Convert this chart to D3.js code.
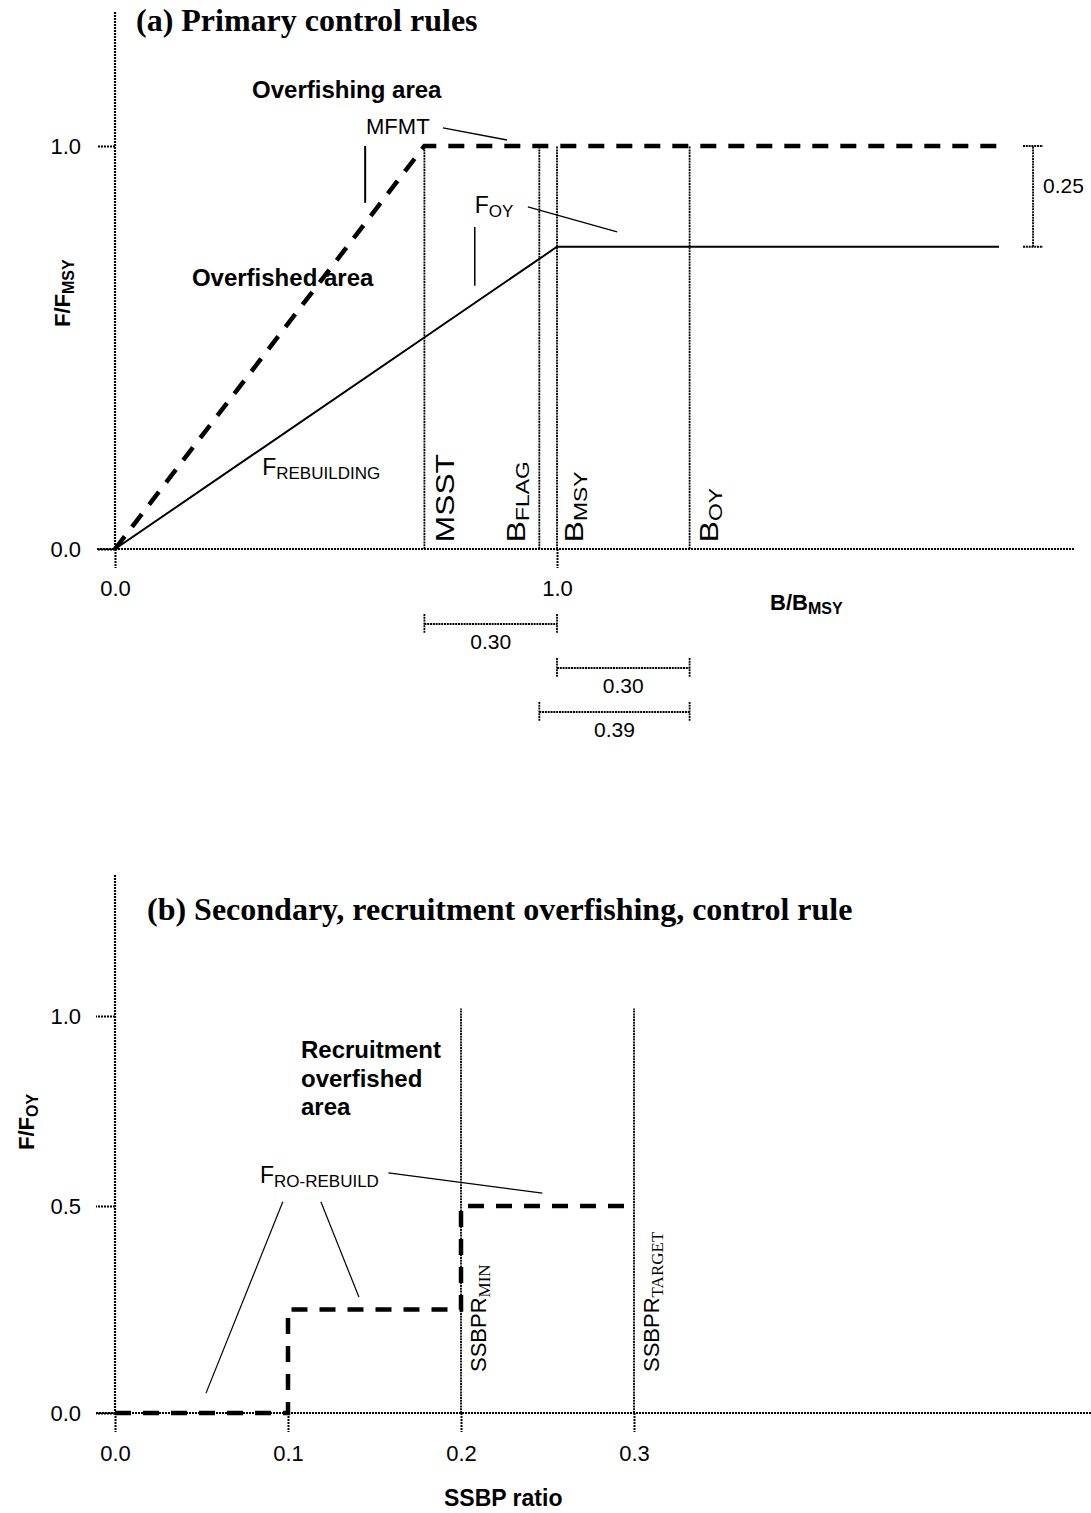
<!DOCTYPE html>
<meta charset="utf-8">
<style>
body{margin:0;background:#fff;}
text{font-family:"Liberation Sans",Arial,sans-serif;fill:#000;}
.title{font-family:"Liberation Serif","Times New Roman",serif;font-weight:bold;font-size:32px;}
.area{font-weight:bold;font-size:24px;}
.axlab{font-weight:bold;font-size:22px;}
.lbl{font-size:23px;}
.sub{font-size:17px;}
.vl{font-size:25px;}
.vsub{font-size:18px;}
.serifsub{font-family:"Liberation Serif","Times New Roman",serif;font-size:17px;}
.num{font-size:21px;}
.tick text{font-size:22px;}
.tick line{stroke-width:2;stroke-dasharray:2,1;}
.axisline{stroke:#000;stroke-width:2.2;stroke-dasharray:2,1;}
.dot{fill:none;stroke:#000;stroke-width:1.8;stroke-dasharray:2,0.8;}
.rule{fill:none;stroke:#000;stroke-width:4.5;stroke-dasharray:16,12;}
.oy{fill:none;stroke:#000;stroke-width:2;}
.lead{stroke:#000;stroke-width:1.5;}
.thin{stroke:#000;stroke-width:1.2;}
</style>
<body>
<script src="https://d3js.org/d3.v7.min.js"></script>
<script>
// (a) primary control rules: x = B/Bmsy, y = F/Fmsy
var fTicksA = [0, 1];
var bTicksA = [0, 1];
var mfmtB = [0, 0.70, 2.0];
var mfmtF = [0, 1, 1];
var foyB = [0, 1.0, 2.0];
var foyF = [0, 0.75, 0.75];
var refMain = ["MSST", "B", "B", "B"];
var refSub = ["", "FLAG", "MSY", "OY"];
var refB = [0.70, 0.96, 1.0, 1.30];
var spanFrom = [0.70, 1.0, 0.96];
var spanTo = [1.0, 1.30, 1.30];
var spanText = ["0.30", "0.30", "0.39"];

// (b) secondary, recruitment overfishing rule: x = SSBP ratio, y = F/Foy
var fTicksB = [0, 0.5, 1];
var ssbpTicks = [0, 0.1, 0.2, 0.3];
var stepSSBP = [0, 0.1, 0.1, 0.2, 0.2, 0.3];
var stepF = [0, 0, 0.25, 0.25, 0.5, 0.5];
var ssbprSub = ["MIN", "TARGET"];
var ssbprRef = [0.2, 0.3];

var svg = d3.select("body").append("svg").attr("width", 1091).attr("height", 1513);

function label(g, x, y, main, sub, cls, subCls){
    var t = g.append("text").attr("x", x).attr("y", y).attr("class", cls);
    t.append("tspan").text(main);
    if(sub) t.append("tspan").attr("class", subCls || "sub").attr("dy", 4).text(sub);
    return t;
}
function vlabel(g, x, y, main, sub, cls, subCls, sx){
    var t = g.append("text").attr("class", cls)
        .attr("transform", "translate(" + x + "," + y + ") rotate(-90) scale(" + (sx || 1) + ",1)");
    t.append("tspan").text(main);
    if(sub) t.append("tspan").attr("class", subCls || "sub").attr("dy", 4).text(sub);
    return t;
}
function lead(g, x1, y1, x2, y2, cls){
    g.append("line").attr("class", cls || "lead")
        .attr("x1", x1).attr("y1", y1).attr("x2", x2).attr("y2", y2);
}
function stripDomain(s){ s.select(".domain").remove(); }

// ---------- panel (a) ----------
var xA = d3.scaleLinear().domain([0, 1]).range([115, 557]);
var yA = d3.scaleLinear().domain([0, 1]).range([549, 146]);
var gA = svg.append("g");

gA.append("text").attr("class", "title").attr("x", 136).attr("y", 31).text("(a) Primary control rules");

gA.append("line").attr("class", "axisline").attr("x1", xA(0)).attr("x2", xA(0)).attr("y1", 12).attr("y2", yA(0));
gA.append("line").attr("class", "axisline").attr("x1", 97).attr("x2", 1075).attr("y1", yA(0)).attr("y2", yA(0));

gA.append("g").attr("transform", "translate(" + xA(0) + ",0)")
    .call(d3.axisLeft(yA).tickValues(fTicksA).tickSize(18).tickPadding(16).tickFormat(d3.format(".1f")))
    .call(stripDomain);
gA.append("g").attr("transform", "translate(0," + yA(0) + ")")
    .call(d3.axisBottom(xA).tickValues(bTicksA).tickSize(19).tickPadding(12).tickFormat(d3.format(".1f")))
    .call(stripDomain);

// reference points
var refDx = [30, -14, 26, 28];
refB.forEach(function(b, i){
    gA.append("line").attr("class", "dot")
        .attr("x1", xA(b)).attr("x2", xA(b)).attr("y1", yA(0)).attr("y2", yA(1));
    vlabel(gA, xA(b) + refDx[i], yA(0.017), refMain[i], refSub[i], "vl", "vsub", 1.27);
});

var lineA = d3.line().x(function(d){ return xA(d[0]); }).y(function(d){ return yA(d[1]); });
gA.append("path").attr("class", "oy").attr("d", lineA(d3.zip(foyB, foyF)));
gA.append("path").attr("class", "rule").attr("d", lineA(d3.zip(mfmtB, mfmtF)));

// annotations
gA.append("text").attr("class", "area").attr("x", xA(0.31)).attr("y", yA(1.119)).text("Overfishing area");
gA.append("text").attr("class", "area").attr("x", xA(0.174)).attr("y", yA(0.653)).text("Overfished area");
label(gA, xA(0.568), yA(1.03), "MFMT", "", "lbl").style("font-size", "22px");
lead(gA, xA(0.742), yA(1.045), xA(0.887), yA(1.015));
lead(gA, xA(0.566), yA(1.0), xA(0.566), yA(0.859), "oy");
label(gA, xA(0.814), yA(0.834), "F", "OY", "lbl");
lead(gA, xA(0.934), yA(0.849), xA(1.136), yA(0.787), "thin");
lead(gA, xA(0.814), yA(0.799), xA(0.814), yA(0.653));
label(gA, xA(0.333), yA(0.184), "F", "REBUILDING", "lbl");

// 0.25 bracket
var bx = xA(2.077);
gA.append("line").attr("class", "dot").attr("x1", bx).attr("x2", bx).attr("y1", yA(0.75)).attr("y2", yA(1));
[0.75, 1].forEach(function(v){
    gA.append("line").attr("class", "dot").attr("x1", bx - 10).attr("x2", bx + 10).attr("y1", yA(v)).attr("y2", yA(v));
});
gA.append("text").attr("class", "num").attr("x", bx + 10).attr("y", (yA(0.75) + yA(1)) / 2 - 3).text("0.25");

// distance brackets under the axis
spanFrom.forEach(function(f, i){
    var ry = yA(0) + 75 + i * 44;
    gA.append("line").attr("class", "dot").attr("x1", xA(f)).attr("x2", xA(spanTo[i])).attr("y1", ry).attr("y2", ry);
    [f, spanTo[i]].forEach(function(v){
        gA.append("line").attr("class", "dot").attr("x1", xA(v)).attr("x2", xA(v)).attr("y1", ry - 10).attr("y2", ry + 9);
    });
    gA.append("text").attr("class", "num").attr("text-anchor", "middle")
        .attr("x", (xA(f) + xA(spanTo[i])) / 2).attr("y", ry + 25).text(spanText[i]);
});

label(gA, 770, 610, "B/B", "MSY", "axlab", "sub").select(".sub").style("font-weight", "bold").style("font-size", "16px");
vlabel(gA, 70, 327, "F/F", "MSY", "axlab", "sub").select(".sub").style("font-weight", "bold").style("font-size", "16px");

// ---------- panel (b) ----------
var xB = d3.scaleLinear().domain([0, 0.1]).range([115, 288]);
var yB = d3.scaleLinear().domain([0, 0.5, 1]).range([1413, 1206, 1016]);
var gB = svg.append("g");

gB.append("text").attr("class", "title").attr("x", 147).attr("y", 920)
    .text("(b) Secondary, recruitment overfishing, control rule");

gB.append("line").attr("class", "axisline").attr("x1", xB(0)).attr("x2", xB(0)).attr("y1", 875).attr("y2", yB(0));
gB.append("line").attr("class", "axisline").attr("x1", 96).attr("x2", 1091).attr("y1", yB(0)).attr("y2", yB(0));

gB.append("g").attr("transform", "translate(" + xB(0) + ",0)")
    .call(d3.axisLeft(yB).tickValues(fTicksB).tickSize(19).tickPadding(15).tickFormat(d3.format(".1f")))
    .call(stripDomain);
gB.append("g").attr("transform", "translate(0," + yB(0) + ")")
    .call(d3.axisBottom(xB).tickValues(ssbpTicks).tickSize(19).tickPadding(13).tickFormat(d3.format(".1f")))
    .call(stripDomain);

ssbprRef.forEach(function(v, i){
    gB.append("line").attr("class", "dot")
        .attr("x1", xB(v)).attr("x2", xB(v)).attr("y1", yB(0)).attr("y2", yB(1.02));
    vlabel(gB, xB(v) + 25, yB(0.099), "SSBPR", ssbprSub[i], "lbl", "serifsub").style("font-size", "22px");
});

var lineB = d3.line().x(function(d){ return xB(d[0]); }).y(function(d){ return yB(d[1]); });
gB.append("path").attr("class", "rule").attr("d", lineB(d3.zip(stepSSBP, stepF)));

var rt = gB.append("text").attr("class", "area").attr("x", xB(0.1075)).attr("y", yB(0.889));
["Recruitment", "overfished", "area"].forEach(function(s, i){
    rt.append("tspan").attr("x", xB(0.1075)).attr("dy", i ? 28.5 : 0).text(s);
});

label(gB, xB(0.0838), yB(0.5605), "F", "RO-REBUILD", "lbl");
lead(gB, xB(0.158), yB(0.587), xB(0.247), yB(0.534), "thin");
lead(gB, xB(0.097), yB(0.511), xB(0.0526), yB(0.048), "thin");
lead(gB, xB(0.119), yB(0.511), xB(0.141), yB(0.28), "thin");

gB.append("text").attr("class", "axlab").attr("x", 444).attr("y", 1506).style("font-size", "23px").text("SSBP ratio");
vlabel(gB, 34, 1150, "F/F", "OY", "axlab", "sub").select(".sub").style("font-weight", "bold").style("font-size", "16px");
</script>
</body>
